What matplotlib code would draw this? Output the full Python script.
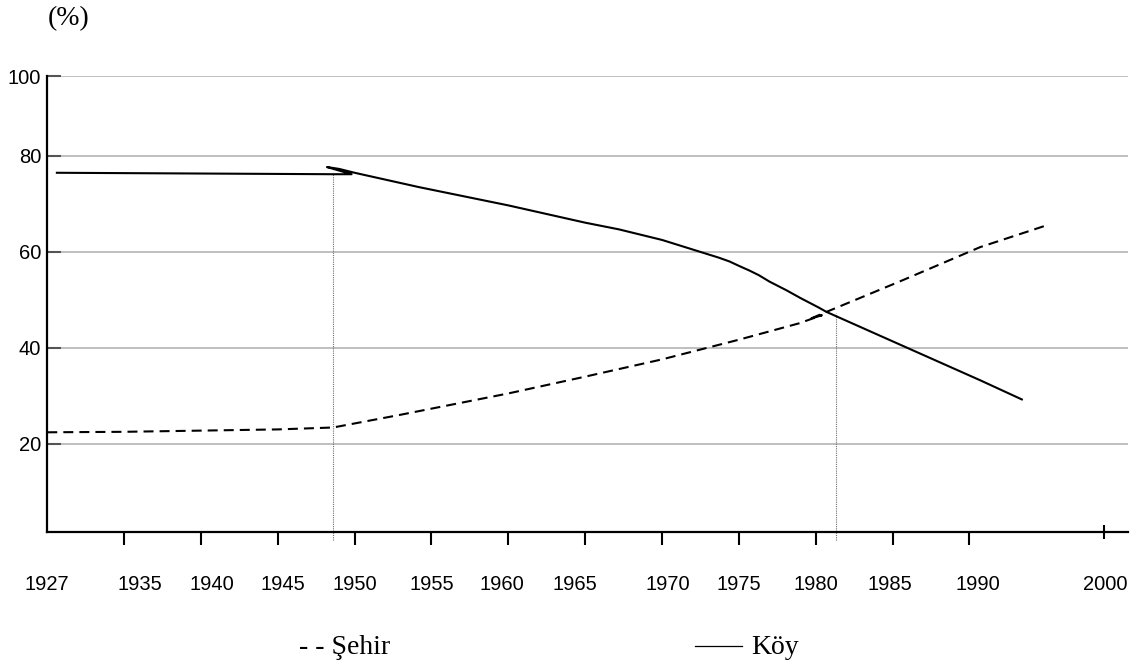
import numpy as np
import matplotlib
matplotlib.use("Agg")
import matplotlib.pyplot as plt
from matplotlib.lines import Line2D

# ─── Data ────────────────────────────────────────────────────────────────
koy_years = [1928, 1948.6, 1949.8, 1948.2, 1949.0, 1950.0, 1954.2, 1960, 1965,
             1967.2, 1970, 1972.4, 1973.1, 1973.7, 1974.4, 1975.0, 1975.7,
             1976.3, 1977.0, 1978.1, 1979.0, 1980.2, 1980.7, 1985.4, 1990.8,
             1993.9]
koy_vals = [76.5, 76.2, 76.2, 77.7, 77.3, 76.5, 73.5, 69.7, 66.1,
            64.7, 62.5, 60.1, 59.4, 58.8, 58.0, 57.1, 56.1,
            55.15, 53.8, 52.0, 50.4, 48.4, 47.5, 40.8, 33.25,
            29.25]

sehir_years = [1927, 1935, 1945, 1948.6, 1952.9, 1960, 1965, 1970, 1975,
               1978.9, 1980.4, 1979.6, 1980.7, 1985.4, 1990.8, 1995.8]
sehir_vals = [22.4, 22.5, 23.0, 23.4, 26.0, 30.5, 34.0, 37.6, 41.7,
              45.1, 46.8, 46.0, 47.5, 53.75, 61.0, 65.6]

marker_years = [1948.6, 1981.3]
marker_tops = [76.2, 47.2]

xticks = [1935, 1940, 1945, 1950, 1955, 1960, 1965, 1970, 1975,
          1980, 1985, 1990, 2000]
xlabels = ["1927", "1935", "1940", "1945", "1950", "1955", "1960", "1965",
           "1970", "1975", "1980", "1985", "1990", "2000"]
yticks = [20, 40, 60, 80, 100]

# the labels of the original do not sit exactly under their ticks
XLABEL_AT = [1927.0, 1936.0, 1940.7, 1945.3, 1950.0, 1955.0, 1959.6,
             1964.3, 1970.35, 1975.0, 1980.0, 1984.85, 1990.65, 2000.1]

# irregular axes of the original: 1927 sits one 5-yr step before 1935,
# the 1990-2000 gap is compressed; the 80-100 band is squeezed too
X_YEAR = [1900, 1927, 1935, 1990, 2000, 2030]
X_POS = [1903, 1930, 1935, 1990, 1998.75, 2028.75]
Y_VAL = [-50, 0, 80, 100, 200]
Y_POS = [-50, 0, 80, 96.667, 179.99]

COLOR_GRID = "#b4b4b4"; COLOR_YTICK = "#555555"; COLOR_DOT = "#6e6e6e"

def fx(v): return np.interp(v, X_YEAR, X_POS)
def ix(v): return np.interp(v, X_POS, X_YEAR)
def fy(v): return np.interp(v, Y_VAL, Y_POS)
def iy(v): return np.interp(v, Y_POS, Y_VAL)

fig = plt.figure(figsize=(11.42, 6.67), dpi=100, facecolor="white")
ax = fig.add_axes([0.0414, 0.2028, 0.9466, 0.6832])
ax.set_xscale("function", functions=(fx, ix))
ax.set_yscale("function", functions=(fy, iy))

ax.yaxis.grid(True, color=COLOR_GRID, linewidth=1.2, zorder=0)
ax.set_axisbelow(True)

ax.plot(koy_years, koy_vals, color="black", linewidth=1.5,
        solid_joinstyle="round", zorder=3)
ax.plot(sehir_years, sehir_vals, color="black", linewidth=1.5,
        dashes=(4.8, 2.9), zorder=3)
for xv, top in zip(marker_years, marker_tops):
    ax.plot([xv, xv], [0, top], color=COLOR_DOT, linewidth=0.8,
            linestyle=(0, (1, 1)), clip_on=False, zorder=2)

for s in ["top", "right"]: ax.spines[s].set_visible(False)
for s in ["left", "bottom"]:
    ax.spines[s].set_linewidth(1.6); ax.spines[s].set_color("black")

ax.set_yticks(yticks)
ax.set_yticklabels([str(v) for v in yticks])
ax.tick_params(axis="y", direction="in", length=10, width=1.5,
               color=COLOR_YTICK, pad=4.5, labelsize=14.5)

# tick marks (major, unlabeled) and labels (minor, no mark)
ax.xaxis.remove_overlapping_locs = False
ax.set_xticks(xticks)
ax.set_xticklabels([])
ax.tick_params(axis="x", which="major", direction="out", length=9.5,
               width=1.5, color="black")
ax.set_xticks(XLABEL_AT, minor=True)
ax.set_xticklabels(xlabels, minor=True)
ax.tick_params(axis="x", which="minor", length=0, pad=31, labelsize=14.5)
# the 2000 tick crosses the axis
t2000 = ax.xaxis.get_major_ticks()[-1].tick1line
t2000.set_marker("|"); t2000.set_markersize(10)

for lab in (ax.get_xticklabels(minor=True) + ax.get_yticklabels()):
    lab.set_fontfamily("Liberation Sans")

# limits last: set_xticks would widen them otherwise
ax.set_xlim(1927, 2001.59)
ax.set_ylim(1.67, 100)

fig.text(0.042, 0.972, "(%)", ha="left", va="center",
         fontsize=20, family="Liberation Serif")

# ─── Legend (hand drawn like the original) ───────────────────────────────
fig.text(0.2615, 0.0285, "- - Şehir", ha="left", va="center",
         fontsize=20, family="Liberation Serif")
fig.add_artist(Line2D([0.609, 0.650], [0.032, 0.032], color="black",
                      linewidth=0.9, transform=fig.transFigure))
fig.text(0.658, 0.0285, "Köy", ha="left", va="center",
         fontsize=20, family="Liberation Serif")

fig.savefig("out.png", dpi=100, facecolor="white")
